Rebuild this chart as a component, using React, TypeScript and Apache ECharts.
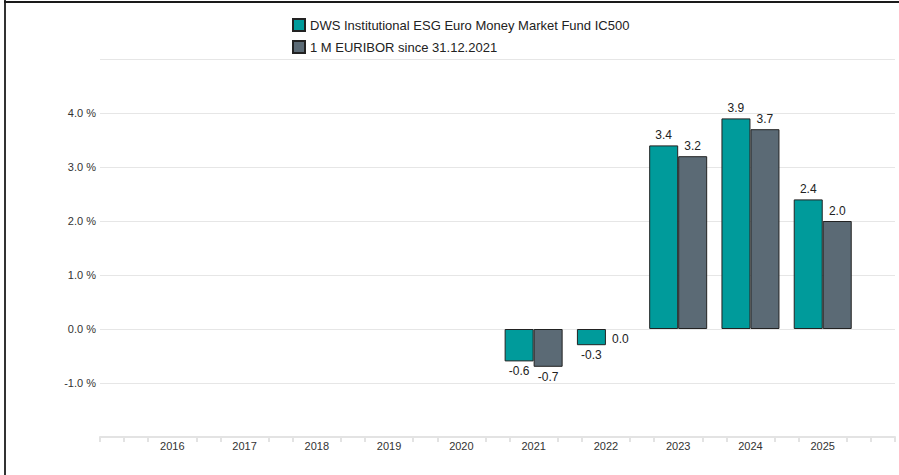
import React, { useEffect, useRef } from "react";
import * as echarts from "echarts";

const years = ["2016", "2017", "2018", "2019", "2020", "2021", "2022", "2023", "2024", "2025"];
const fundValues: (number | null)[] = [null, null, null, null, null, -0.6, -0.3, 3.4, 3.9, 2.4];
const euriborValues: (number | null)[] = [null, null, null, null, null, -0.7, 0.0, 3.2, 3.7, 2.0];
const fundName = "DWS Institutional ESG Euro Money Market Fund IC500";
const euriborName = "1 M EURIBOR since 31.12.2021";

const FONT = '"Liberation Sans", Arial, sans-serif';

function toData(vals: (number | null)[]) {
  const padded = [null, ...vals, null];
  return padded.map((v) =>
    v === null
      ? "-"
      : {
          value: v,
          label: { position: v <= 0 ? "bottom" : "top" },
          ...(v === 0 ? { itemStyle: { borderWidth: 0 } } : {}),
        }
  );
}

export default function App() {
  const ref = useRef<HTMLDivElement>(null);
  useEffect(() => {
    if (!ref.current) return;
    const chart = echarts.init(ref.current, undefined, { renderer: "svg" });
    const nCat = years.length + 2;
    const tickVals: number[] = [];
    for (let k = 0; k <= (nCat - 1) * 3; k++) {
      if (k % 3 !== 0 || k === 0 || k === (nCat - 1) * 3) tickVals.push(k / 3);
    }
    const gridRect = { left: 100, right: 4, top: 59, bottom: 38 };
    const labelStyle = {
      show: true,
      fontSize: 12,
      color: "#222",
      fontFamily: FONT,
      distance: 4,
      formatter: (p: any) => Number(p.value).toFixed(1),
    };
    chart.setOption({
      animation: false,
      textStyle: { fontFamily: FONT },
      legend: {
        orient: "vertical",
        left: 287,
        top: 13,
        itemWidth: 12,
        itemHeight: 12,
        itemGap: 8,
        icon: "rect",
        textStyle: { fontSize: 13, color: "#222", fontFamily: FONT },
        data: [fundName, euriborName],
      },
      graphic: [
        { type: "rect", shape: { x: 4, y: 0, width: 2, height: 475 }, style: { fill: "#333" } },
        { type: "rect", shape: { x: 4, y: 1, width: 895, height: 2 }, style: { fill: "#1a1a1a" } },
      ],
      grid: [
        { ...gridRect },
        { ...gridRect },
      ],
      xAxis: [
        {
          type: "category",
          gridIndex: 0,
          boundaryGap: false,
          data: ["", ...years, ""],
          axisLine: { show: false },
          axisTick: { show: false },
          axisLabel: { fontSize: 11, color: "#333", margin: 3, fontFamily: FONT },
          splitLine: { show: false },
        },
        {
          type: "value",
          gridIndex: 1,
          min: 0,
          max: nCat - 1,
          axisLine: { show: true, lineStyle: { color: "#e3e3e3", width: 2 } },
          axisTick: {
            show: true,
            customValues: tickVals,
            length: 5,
            lineStyle: { color: "#e3e3e3", width: 2 },
          },
          axisLabel: { show: false },
          splitLine: { show: false },
        },
      ],
      yAxis: [
        {
          type: "value",
          gridIndex: 0,
          min: -2,
          max: 5,
          interval: 1,
          axisLine: { show: false },
          axisTick: { show: false },
          axisLabel: {
            fontSize: 11,
            color: "#333",
            margin: 4,
            fontFamily: FONT,
            showMaxLabel: false,
            showMinLabel: false,
            formatter: (v: number) => v.toFixed(1) + " %",
          },
          splitLine: { lineStyle: { color: "#e6e6e6", width: 1 } },
        },
        { type: "value", gridIndex: 1, min: 0, max: 1, show: false },
      ],
      series: [
        {
          name: fundName,
          type: "bar",
          xAxisIndex: 0,
          yAxisIndex: 0,
          barWidth: 29,
          barGap: "0%",
          itemStyle: { color: "#009b9b", borderColor: "#222", borderWidth: 1 },
          label: labelStyle,
          data: toData(fundValues),
        },
        {
          name: euriborName,
          type: "bar",
          xAxisIndex: 0,
          yAxisIndex: 0,
          barWidth: 29,
          barGap: "0%",
          itemStyle: { color: "#5b6a75", borderColor: "#222", borderWidth: 1 },
          label: labelStyle,
          data: toData(euriborValues),
        },
      ],
    });
    return () => chart.dispose();
  }, []);
  return (
    <div
      ref={ref}
      style={{ position: "fixed", left: 0, top: 0, width: 899, height: 475, background: "#fff" }}
    />
  );
}
